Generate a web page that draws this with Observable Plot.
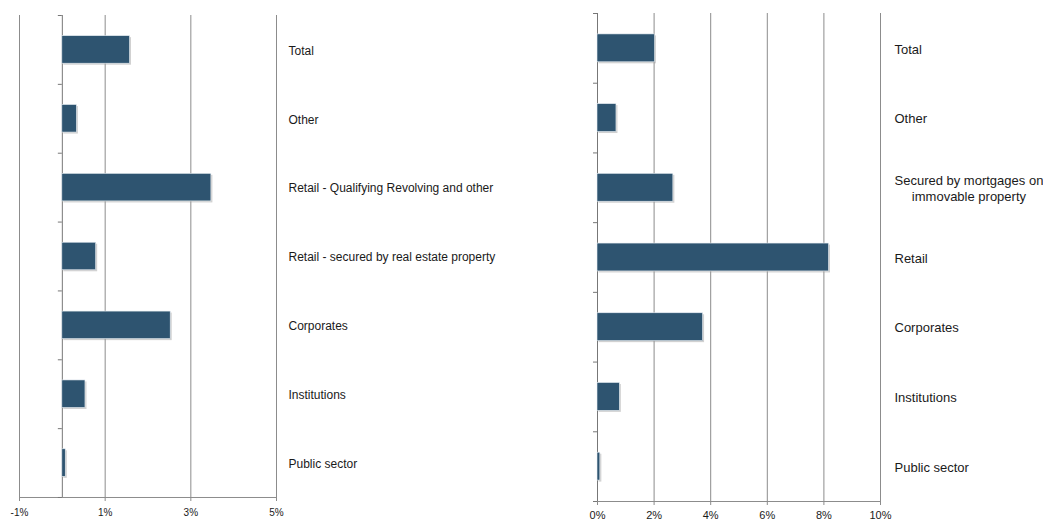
<!DOCTYPE html>
<html>
<head>
<meta charset="utf-8">
<script src="https://cdn.jsdelivr.net/npm/d3@7"></script>
<script src="https://cdn.jsdelivr.net/npm/@observablehq/plot@0.6"></script>
<style>
  html, body { margin: 0; padding: 0; background: #fff; }
  #wrap { position: relative; width: 1043px; height: 522px; overflow: hidden; }
  #left, #right { position: absolute; top: 0; }
  #left { left: 0; }
  #right { left: 560px; }
</style>
</head>
<body>
<div id="wrap"><div id="left"></div><div id="right"></div></div>
<script>
// ---- Data ----
const leftCategories = ["Total", "Other", "Retail - Qualifying Revolving and other", "Retail - secured by real estate property", "Corporates", "Institutions", "Public sector"];
const leftValues = [1.58, 0.34, 3.48, 0.79, 2.53, 0.54, 0.08];
const leftTicks = [-1, 1, 3, 5];

const rightCategories = ["Total", "Other", "Secured by mortgages on\nimmovable property", "Retail", "Corporates", "Institutions", "Public sector"];
const rightValues = [2.03, 0.67, 2.68, 8.18, 3.73, 0.79, 0.10];
const rightTicks = [0, 2, 4, 6, 8, 10];

const BAR = "#2e5470";
const GRID = "#8c8c8c";
const AXIS = "#8c8c8c";

function measure(text, font) {
  const c = document.createElement("canvas").getContext("2d");
  c.font = font;
  return Math.max(...text.split("\n").map(l => c.measureText(l).width));
}

function chart({categories, values, ticks, domain, width, height, mt, mb, ml, mr, labelFont, labelSize, labelGap, tickFont, tickPad, zeroTickLen}) {
  const data = categories.map((c, i) => ({c, v: values[i]}));
  const plotW = width - ml - mr;
  const pxPerUnit = plotW / (domain[1] - domain[0]);
  const step = (height - mt - mb) / categories.length;
  const tlen = zeroTickLen / pxPerUnit;
  const grid = ticks.filter(t => t !== 0);
  const labelMarks = categories.map(c => Plot.text([c], {
    x: () => domain[1], y: d => d, text: d => d,
    textAnchor: "middle", lineAnchor: "middle", lineHeight: 1.25,
    dx: labelGap + measure(c, `${labelSize}px ${labelFont}`) / 2,
    fontSize: labelSize, fontFamily: labelFont, fill: "#1a1a1a"
  }));
  return Plot.plot({
    width, height,
    marginTop: mt, marginBottom: mb, marginLeft: ml, marginRight: mr,
    x: {domain, axis: null},
    y: {domain: categories, paddingInner: 0.6, paddingOuter: 0.3, round: false, axis: null},
    style: {overflow: "visible"},
    marks: [
      Plot.ruleX(grid, {stroke: GRID, strokeWidth: 1}),
      // bottom axis line
      Plot.ruleY([categories[categories.length - 1]], {dy: step / 2, x1: domain[0], x2: domain[1], stroke: AXIS}),
      // category boundary ticks at zero axis
      Plot.ruleY(categories, {dy: -step / 2, x1: -tlen, x2: 0, stroke: "#777"}),
      Plot.ruleY([categories[categories.length - 1]], {dy: step / 2, x1: -tlen, x2: 0, stroke: "#777"}),
      Plot.ruleX([0], {stroke: "#777"}),
      // shadow
      Plot.barX(data, {x: "v", y: "c", fill: "#9a9a9a", fillOpacity: 0.45, dx: 1.5, dy: 1.5}),
      Plot.barX(data, {x: "v", y: "c", fill: BAR, stroke: "#e8eef3", strokeWidth: 0.6}),
      Plot.axisX({ticks, label: null, tickSize: 4, tickPadding: tickPad, tickFormat: d => d + "%", stroke: AXIS, fontSize: tickFont, fontFamily: labelFont, fill: "#1a1a1a"}),
      ...labelMarks
    ]
  });
}

document.getElementById("left").appendChild(chart({
  categories: leftCategories, values: leftValues, ticks: leftTicks, domain: [-1, 5],
  width: 560, height: 522, mt: 15, mb: 25, ml: 19, mr: 284,
  labelFont: "Liberation Sans", labelSize: 12, labelGap: 12,
  tickFont: 10, tickPad: 7, zeroTickLen: 4
}));

document.getElementById("right").appendChild(chart({
  categories: rightCategories, values: rightValues, ticks: rightTicks, domain: [0, 10],
  width: 483, height: 522, mt: 13, mb: 21, ml: 37, mr: 163,
  labelFont: "Liberation Sans", labelSize: 13, labelGap: 14,
  tickFont: 11, tickPad: 6, zeroTickLen: 4
}));
</script>
</body>
</html>
